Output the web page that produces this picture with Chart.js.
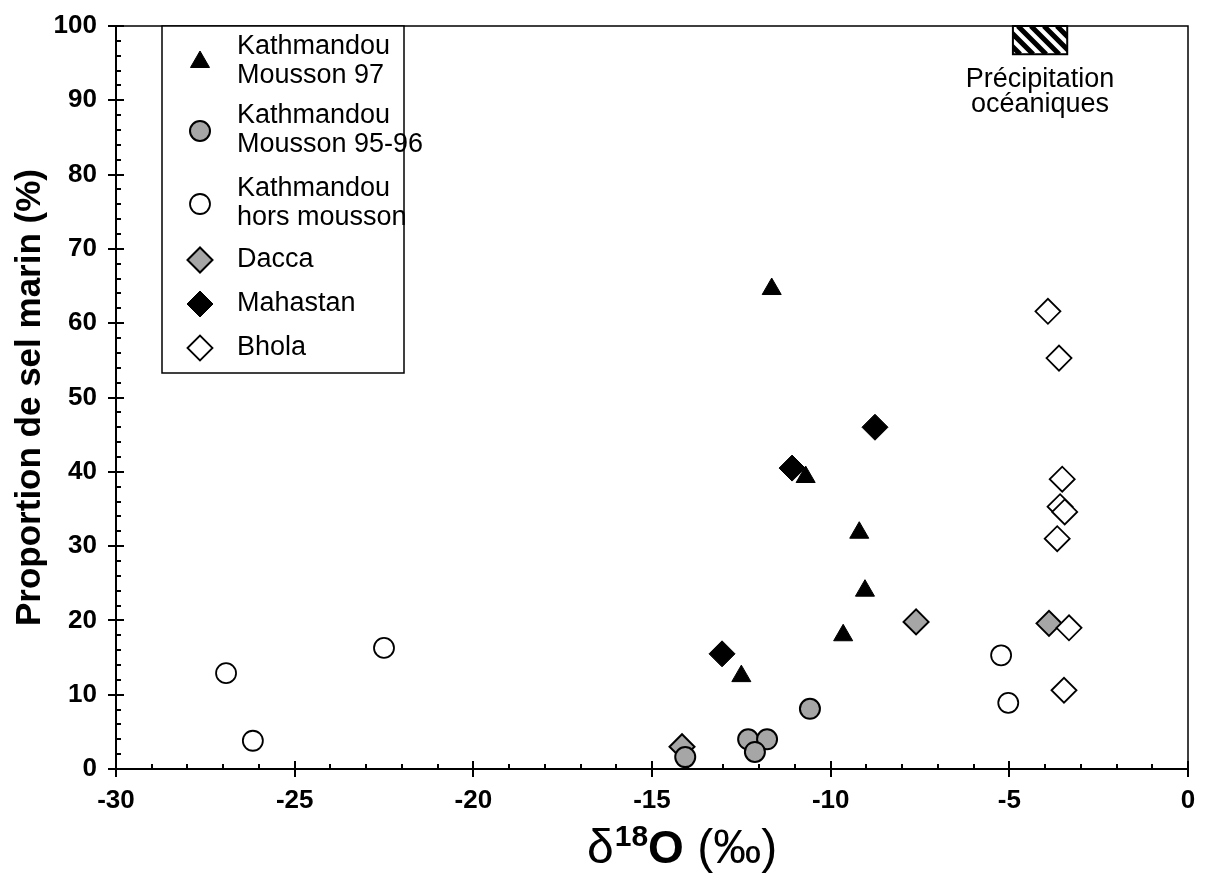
<!DOCTYPE html>
<html>
<head>
<meta charset="utf-8">
<script src="https://cdn.jsdelivr.net/npm/chart.js@4.4.0/dist/chart.umd.min.js"></script>
<style>
  html, body { margin: 0; padding: 0; background: #fff; }
  canvas { display: block; }
</style>
</head>
<body>
<canvas id="chart" width="1211" height="876"></canvas>
<script>
// values
const mousson97X = [-11.65, -10.7, -9.2, -9.04, -9.65, -12.5];
const mousson97Y = [64.6, 39.3, 31.8, 24.0, 18.0, 12.5];

const mousson9596X = [-10.58, -12.31, -11.78, -12.12, -14.07];
const mousson9596Y = [8.1, 4.0, 4.0, 2.3, 1.6];

const horsMoussonX = [-26.92, -26.17, -22.5, -5.23, -5.03];
const horsMoussonY = [12.9, 3.8, 16.3, 15.3, 8.9];

const daccaX = [-14.16, -7.61, -3.89];
const daccaY = [3.0, 19.8, 19.6];

const mahastanX = [-8.76, -11.08, -13.04];
const mahastanY = [46.0, 40.5, 15.5];

const bholaX = [-3.92, -3.61, -3.52, -3.58, -3.45, -3.66, -3.33, -3.47];
const bholaY = [61.6, 55.3, 39.0, 35.3, 34.6, 31.0, 19.0, 10.6];

// hatched box "Précipitation océaniques"
const oceanX = [-4.9, -3.38];
const oceanY = [96.2, 100];
const oceanLabel = ['Précipitation', 'océaniques'];

const xTickValues = [-30, -25, -20, -15, -10, -5, 0];
const yTickValues = [0, 10, 20, 30, 40, 50, 60, 70, 80, 90, 100];

const legendLines = [
  ['Kathmandou', 'Mousson 97'],
  ['Kathmandou', 'Mousson 95-96'],
  ['Kathmandou', 'hors mousson'],
  ['Dacca'],
  ['Mahastan'],
  ['Bhola']
];

const FONT = "'Liberation Sans', Arial, Helvetica, sans-serif";
const GRAY = '#a6a6a6';

const pts = (xs, ys) => xs.map((x, i) => ({ x: x, y: ys[i] }));

const datasets = [
  { label: 'Kathmandou Mousson 97', data: pts(mousson97X, mousson97Y), pointStyle: 'triangle',
    pointRadius: 11, backgroundColor: '#000', borderColor: '#000', borderWidth: 1, order: 1 },
  { label: 'Kathmandou Mousson 95-96', data: pts(mousson9596X, mousson9596Y), pointStyle: 'circle',
    pointRadius: 10, backgroundColor: GRAY, borderColor: '#000', borderWidth: 2, order: 1 },
  { label: 'Kathmandou hors mousson', data: pts(horsMoussonX, horsMoussonY), pointStyle: 'circle',
    pointRadius: 10, backgroundColor: '#fff', borderColor: '#000', borderWidth: 1.8, order: 1 },
  { label: 'Dacca', data: pts(daccaX, daccaY), pointStyle: 'rectRot',
    pointRadius: 12.5, backgroundColor: GRAY, borderColor: '#000', borderWidth: 2, order: 1 },
  { label: 'Mahastan', data: pts(mahastanX, mahastanY), pointStyle: 'rectRot',
    pointRadius: 13, backgroundColor: '#000', borderColor: '#000', borderWidth: 1, order: 1 },
  { label: 'Bhola', data: pts(bholaX, bholaY), pointStyle: 'rectRot',
    pointRadius: 12.5, backgroundColor: '#fff', borderColor: '#000', borderWidth: 1.8, order: 0 }
];

// axes with crossing major ticks and inner minor ticks, plus frame
const axesPlugin = {
  id: 'axesPlugin',
  beforeDatasetsDraw(chart) {
    const { ctx, chartArea: a, scales: { x, y } } = chart;
    ctx.save();
    ctx.strokeStyle = '#000';
    // top + right frame
    ctx.lineWidth = 1.5;
    ctx.beginPath();
    ctx.moveTo(a.left, a.top); ctx.lineTo(a.right, a.top); ctx.lineTo(a.right, a.bottom);
    ctx.stroke();
    // left + bottom axes
    ctx.lineWidth = 2;
    ctx.beginPath();
    ctx.moveTo(a.left, a.top); ctx.lineTo(a.left, a.bottom); ctx.lineTo(a.right, a.bottom);
    ctx.stroke();
    ctx.beginPath();
    for (let v = x.min; v <= x.max; v += 1) {
      const px = Math.round(x.getPixelForValue(v));
      if (v % 5 === 0) { ctx.moveTo(px, a.bottom - 8); ctx.lineTo(px, a.bottom + 8); }
      else { ctx.moveTo(px, a.bottom); ctx.lineTo(px, a.bottom - 5); }
    }
    for (let v = y.min; v <= y.max; v += 2) {
      const py = Math.round(y.getPixelForValue(v));
      if (v % 10 === 0) { ctx.moveTo(a.left - 8, py); ctx.lineTo(a.left + 8, py); }
      else { ctx.moveTo(a.left, py); ctx.lineTo(a.left + 5, py); }
    }
    ctx.stroke();

    // hatched oceanic box
    const x0 = x.getPixelForValue(oceanX[0]), x1 = x.getPixelForValue(oceanX[1]);
    const y0 = y.getPixelForValue(oceanY[1]), y1 = y.getPixelForValue(oceanY[0]);
    ctx.save();
    ctx.beginPath();
    ctx.rect(x0, y0, x1 - x0, y1 - y0);
    ctx.clip();
    ctx.lineWidth = 5;
    ctx.beginPath();
    for (let s = -60; s < 80; s += 13) {
      ctx.moveTo(x0 + s, y0);
      ctx.lineTo(x0 + s + (y1 - y0), y1);
    }
    ctx.stroke();
    ctx.restore();
    ctx.lineWidth = 2;
    ctx.strokeRect(x0, y0, x1 - x0, y1 - y0);
    ctx.fillStyle = '#000';
    ctx.font = `27px ${FONT}`;
    ctx.textAlign = 'center';
    ctx.textBaseline = 'middle';
    const cx = (x0 + x1) / 2;
    ctx.fillText(oceanLabel[0], cx, y1 + 25);
    ctx.fillText(oceanLabel[1], cx, y1 + 50);
    ctx.restore();
  },
  afterDraw(chart) {
    const { ctx, chartArea: a } = chart;
    ctx.save();
    // legend box
    const bx = 162, by = a.top, bw = 242, bh = 347;
    ctx.fillStyle = '#fff';
    ctx.fillRect(bx, by, bw, bh);
    ctx.strokeStyle = '#000';
    ctx.lineWidth = 1.5;
    ctx.strokeRect(bx, by, bw, bh);
    const markerY = [62, 131, 204, 260, 304, 348];
    chart.data.datasets.forEach((ds, i) => {
      ctx.fillStyle = ds.backgroundColor;
      ctx.strokeStyle = ds.borderColor;
      ctx.lineWidth = ds.borderWidth;
      Chart.helpers.drawPoint(ctx, {
        pointStyle: ds.pointStyle, radius: ds.pointRadius, rotation: 0, borderWidth: ds.borderWidth
      }, 200, markerY[i]);
      ctx.fillStyle = '#000';
      ctx.font = `27px ${FONT}`;
      ctx.textAlign = 'left';
      ctx.textBaseline = 'middle';
      const lines = legendLines[i];
      if (lines.length === 1) {
        ctx.fillText(lines[0], 237, markerY[i]);
      } else {
        ctx.fillText(lines[0], 237, markerY[i] - 15);
        ctx.fillText(lines[1], 237, markerY[i] + 14);
      }
    });

    // x axis title: δ18O (‰)
    const parts = [
      { t: 'δ', font: `48px ${FONT}`, dy: 0, gap: 1 },
      { t: '18', font: `bold 30px ${FONT}`, dy: -17, gap: 0 },
      { t: 'O', font: `bold 46px ${FONT}`, dy: 0, gap: 0 },
      { t: ' (‰)', font: `48px ${FONT}`, dy: 0, gap: 0 }
    ];
    let tx = 587;
    const base = 863;
    ctx.textBaseline = 'alphabetic';
    ctx.textAlign = 'left';
    ctx.fillStyle = '#000';
    parts.forEach(p => {
      ctx.font = p.font;
      ctx.fillText(p.t, tx, base + p.dy);
      tx += ctx.measureText(p.t).width + p.gap;
    });
    ctx.restore();
  }
};

new Chart(document.getElementById('chart'), {
  type: 'scatter',
  data: { datasets: datasets },
  options: {
    responsive: false,
    animation: false,
    clip: false,
    layout: { padding: { top: 26, right: 23, left: 0, bottom: 0 } },
    plugins: { legend: { display: false }, tooltip: { enabled: false } },
    scales: {
      x: {
        type: 'linear', min: -30, max: 0,
        afterBuildTicks: s => { s.ticks = xTickValues.map(v => ({ value: v })); },
        afterFit: s => { s.height = 107; s.paddingLeft = 0; s.paddingRight = 0; },
        grid: { display: false, drawTicks: false },
        border: { display: false },
        ticks: { color: '#000', padding: 16, font: { family: FONT, size: 26, weight: 'bold' } },
        title: { display: false }
      },
      y: {
        type: 'linear', min: 0, max: 100,
        afterBuildTicks: s => { s.ticks = yTickValues.map(v => ({ value: v })); },
        afterFit: s => { s.width = 116; s.paddingTop = 0; s.paddingBottom = 0; },
        grid: { display: false, drawTicks: false },
        border: { display: false },
        ticks: { color: '#000', padding: 19, font: { family: FONT, size: 26, weight: 'bold' } },
        title: {
          display: true, text: 'Proportion de sel marin (%)', color: '#000',
          font: { family: FONT, size: 35, weight: 'bold' }, padding: { top: 9, bottom: 0 }
        }
      }
    }
  },
  plugins: [axesPlugin]
});
</script>
</body>
</html>
